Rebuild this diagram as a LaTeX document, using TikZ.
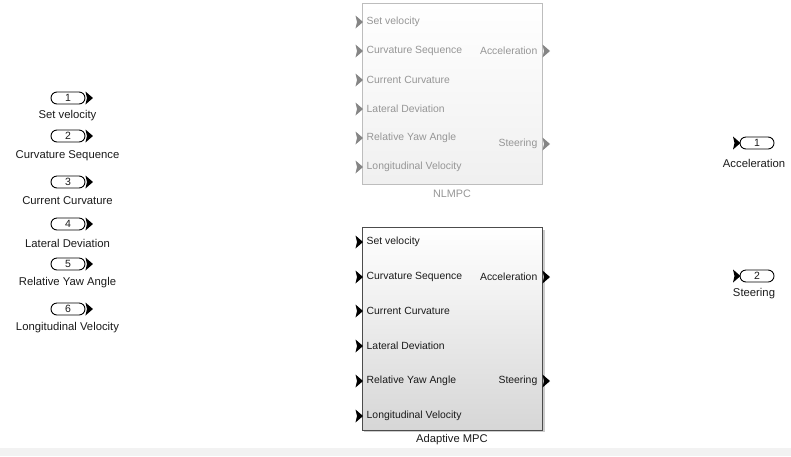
\documentclass[tikz,border=0pt]{standalone}
\usepackage{fontspec}
\setmainfont{Liberation Sans}
\definecolor{nlgray}{HTML}{969696}
\definecolor{nlarrow}{HTML}{858585}
\definecolor{nlborder}{HTML}{BDBDBD}
\definecolor{txt}{HTML}{1A1A1A}
\definecolor{band}{HTML}{F2F2F2}
\newcommand{\portarrow}[2]{\fill[#2] (#1) ++(0,-6.5) -- ++(7.5,6.5) -- ++(-7.5,6.5) -- ++(1.5,-6.5) -- cycle;}
\tikzset{
  inportbox/.style={draw=black, line width=0.9pt, rounded corners=6pt, minimum width=34pt, minimum height=12pt, inner sep=0pt, font=\fontsize{10.5}{12}\selectfont, text=txt},
  outlabel/.style={font=\fontsize{11.3}{13}\selectfont, text=txt, inner sep=0pt},
  nlblock/.style={draw=nlborder, line width=0.8pt, top color=white, bottom color=black!6, minimum width=180pt, minimum height=181pt, inner sep=0pt},
  ampcblock/.style={draw=black!70, line width=0.9pt, top color=white, bottom color=black!16, minimum width=180pt, minimum height=203pt, inner sep=0pt},
  nltext/.style={font=\fontsize{10.4}{12}\selectfont, text=nlgray, inner sep=0pt},
  amtext/.style={font=\fontsize{10.4}{12}\selectfont, text=txt, inner sep=0pt},
}
\begin{document}
\begin{tikzpicture}[x=1pt,y=-1pt]
\useasboundingbox (0,0) rectangle (791,456);
\fill[band] (0,448) rectangle (791,456);

% Inports
\foreach \n/\y/\ly/\lab in {1/98/116/Set velocity, 2/136/156/Curvature Sequence, 3/182/201/Current Curvature, 4/224/243/Lateral Deviation, 5/264/283/Relative Yaw Angle, 6/309/328/Longitudinal Velocity}{
  \node[inportbox] (in\n) at (68,\y) {\n};
  \portarrow{in\n.east}{black}
  \node[outlabel] (inlab\n) at (67.5,\ly) {\lab};
}

% NLMPC block
\node[nlblock] (nl) at (452,93.5) {};
\node[nltext, font=\fontsize{10.8}{12}\selectfont] (nllab) at (452,194) {NLMPC};
\foreach \n/\y/\lab in {1/22/Set velocity, 2/51/Curvature Sequence, 3/80/Current Curvature, 4/109/Lateral Deviation, 5/138/Relative Yaw Angle, 6/167/Longitudinal Velocity}{
  \coordinate (nlin\n) at (355.5,\y);
  \portarrow{nlin\n}{nlarrow}
  \node[nltext, anchor=west] (nlp\n) at (366.5,\y) {\lab};
}
\foreach \n/\y/\lab in {1/51/Acceleration, 2/144/Steering}{
  \coordinate (nlout\n) at (542.5,\y);
  \portarrow{nlout\n}{nlarrow}
  \node[nltext, anchor=east] (nlq\n) at (537.5,\y) {\lab};
}

% Adaptive MPC block
\fill[black!20] (364,230) rectangle (544.5,432);
\node[ampcblock] (am) at (452,328.5) {};
\node[amtext, font=\fontsize{11.2}{13}\selectfont] (amlab) at (452,440) {Adaptive MPC};
\foreach \n/\y/\lab in {1/242/Set velocity, 2/277/Curvature Sequence, 3/311/Current Curvature, 4/346/Lateral Deviation, 5/381/Relative Yaw Angle, 6/416/Longitudinal Velocity}{
  \coordinate (amin\n) at (355.5,\y);
  \portarrow{amin\n}{black}
  \node[amtext, anchor=west] (amp\n) at (366.5,\y) {\lab};
}
\foreach \n/\y/\lab in {1/277/Acceleration, 2/381/Steering}{
  \coordinate (amout\n) at (542.5,\y);
  \portarrow{amout\n}{black}
  \node[amtext, anchor=east] (amq\n) at (537.5,\y) {\lab};
}

% Outports
\foreach \n/\y/\ly/\lab in {1/143/163/Acceleration, 2/276/294/Steering}{
  \node[inportbox] (out\n) at (757,\y) {\n};
  \coordinate (outa\n) at (733,\y);
  \portarrow{outa\n}{black}
  \node[outlabel] (outlab\n) at (754,\ly) {\lab};
}
\end{tikzpicture}
\end{document}
